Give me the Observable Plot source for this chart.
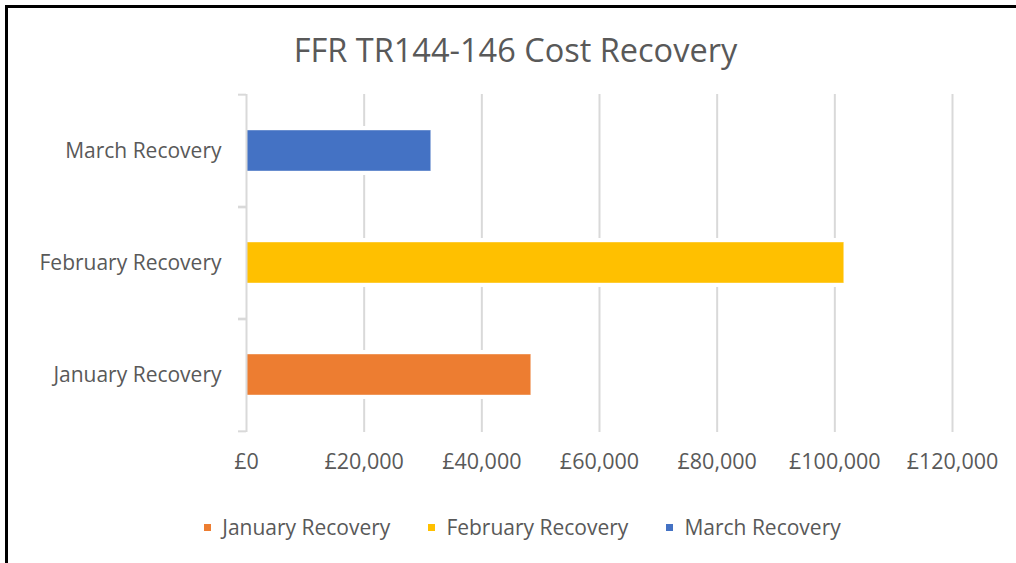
<!DOCTYPE html>
<html>
<head>
<meta charset="utf-8">
<script src="https://cdn.jsdelivr.net/npm/d3@7"></script>
<script src="https://cdn.jsdelivr.net/npm/@observablehq/plot@0.6"></script>
<style>
  html, body { margin: 0; padding: 0; background: #fff; }
  #frame { position: relative; width: 1016px; height: 563px; overflow: hidden; font-family: "Open Sans", Lato, sans-serif; color: #595959; }
  #borderTop { position: absolute; left: 5px; top: 5px; width: 1011px; height: 3px; background: #000; }
  #borderLeft { position: absolute; left: 5px; top: 5px; width: 3px; height: 558px; background: #000; }
  #title { position: absolute; left: 0; top: 28px; width: 1031px; text-align: center; font-size: 32.5px; line-height: 44px; }
  #chart { position: absolute; left: 0; top: 85px; }
  #legend { position: absolute; top: 511px; left: 0; width: 1045px; display: flex; justify-content: center; gap: 38px; font-size: 21px; line-height: 32px; }
  .item { display: flex; align-items: center; }
  .sw { width: 7px; height: 7px; margin-right: 11px; }
</style>
</head>
<body>
<div id="frame">
  <div id="borderTop"></div>
  <div id="borderLeft"></div>
  <div id="title"></div>
  <div id="chart"></div>
  <div id="legend"></div>
</div>
<script>
const titleText = "FFR TR144-146 Cost Recovery";
const categories = ["January Recovery", "February Recovery", "March Recovery"];
const values = [48400, 101600, 31400];
const colors = ["#ED7D31", "#FFC000", "#4472C4"];
const xTicks = [0, 20000, 40000, 60000, 80000, 100000, 120000];

const data = categories.map((c, i) => ({category: c, value: values[i], color: colors[i]}));
const yOrder = categories.slice().reverse();

const W = 1016, H = 395, mt = 9, mb = 48, ml = 246, mr = 64;
const step = (H - mt - mb) / categories.length;
const gray = "#595959", grid = "#d9d9d9";
const fmt = d => "£" + d3.format(",")(d);
const font = "'Open Sans', Lato, sans-serif";

const plot = Plot.plot({
  width: W, height: H,
  marginTop: mt, marginBottom: mb, marginLeft: ml, marginRight: mr,
  style: {fontFamily: font, fontSize: "21px", color: gray, background: "transparent"},
  x: {domain: [0, 120000]},
  y: {domain: yOrder, paddingInner: 0.63, paddingOuter: 0.315},
  marks: [
    Plot.ruleX(xTicks.slice(1), {stroke: grid, strokeWidth: 2}),
    Plot.barX(data, {y: "category", x: "value", fill: "white", stroke: "white", strokeWidth: 8}),
    Plot.barX(data, {y: "category", x: "value", fill: "color", stroke: "white", strokeOpacity: 0.4, strokeWidth: 1}),
    Plot.ruleX([0], {stroke: grid, strokeWidth: 2}),
    Plot.axisY({tickSize: 0, tickPadding: 25, fill: gray, label: null, fontSize: 21}),
    Plot.axisY({tickSize: 8, tickFormat: () => "", stroke: grid, strokeWidth: 2, dy: -step / 2, label: null}),
    Plot.axisY({tickSize: 8, tickFormat: () => "", stroke: grid, strokeWidth: 2, dy: step / 2, label: null}),
    Plot.axisX({ticks: xTicks, tickFormat: fmt, tickSize: 0, tickPadding: 21, fill: gray, label: null, fontSize: 21.5})
  ]
});
document.getElementById("chart").appendChild(plot);
document.getElementById("title").textContent = titleText;

const legend = document.getElementById("legend");
categories.forEach((c, i) => {
  const it = document.createElement("div");
  it.className = "item";
  const sw = document.createElement("span");
  sw.className = "sw";
  sw.style.background = colors[i];
  const t = document.createElement("span");
  t.textContent = c;
  it.appendChild(sw); it.appendChild(t);
  legend.appendChild(it);
});
</script>
</body>
</html>
